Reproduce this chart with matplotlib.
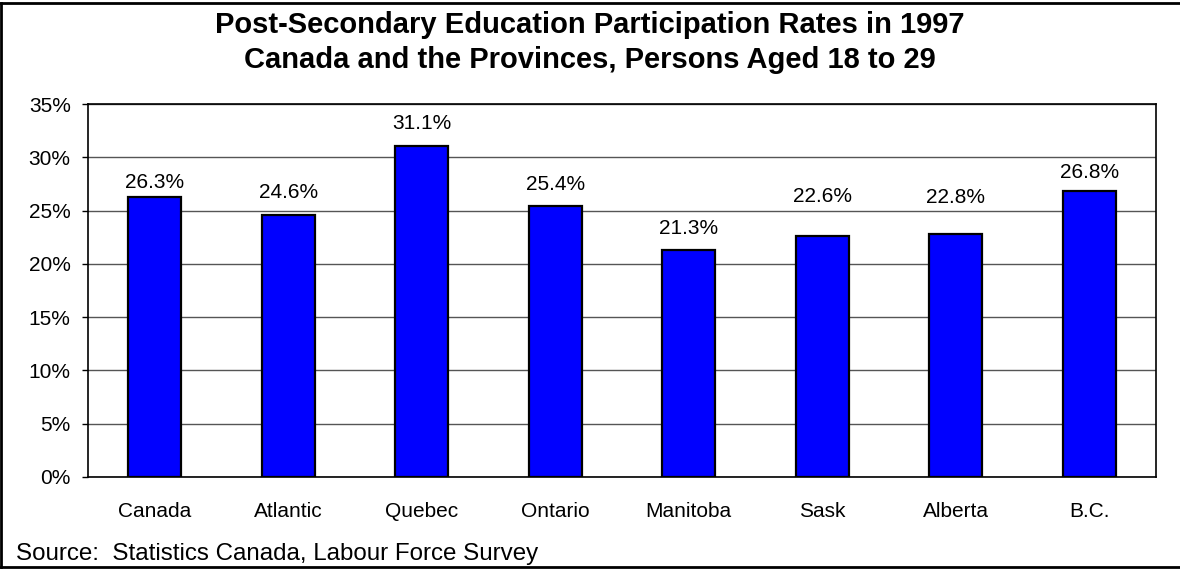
import matplotlib
matplotlib.use("Agg")
import matplotlib.pyplot as plt
from matplotlib.lines import Line2D

plt.rcParams['font.family'] = ['Liberation Sans', 'DejaVu Sans']

# participation rates, persons aged 18 to 29 (percent)
regions = ["Canada", "Atlantic", "Quebec", "Ontario", "Manitoba", "Sask", "Alberta", "B.C."]
rates = [26.3, 24.6, 31.1, 25.4, 21.3, 22.6, 22.8, 26.8]
y_ticks = [0, 5, 10, 15, 20, 25, 30, 35]

# vertical gap (pixels) between bar top and its value label
label_gap = [14, 22, 22, 22, 22, 40, 37, 19]

fig = plt.figure(figsize=(11.8, 5.69), dpi=100)
ax = fig.add_axes([0.0746, 0.1617, 0.9051, 0.6555])

x = list(range(len(regions)))
ax.bar(x, rates, width=0.4, color="#0000FF", edgecolor="black", linewidth=1.6, zorder=3)

for xi, v, g in zip(x, rates, label_gap):
    ax.annotate(f"{v:.1f}%", (xi, v), xytext=(0, g), textcoords="offset pixels",
                ha="center", va="center", fontsize=15, zorder=4)

ax.set_xlim(-0.5, len(regions) - 0.5)
ax.set_ylim(0, 35)
ax.set_yticks(y_ticks)
ax.set_yticklabels([f"{t}%" for t in y_ticks])
ax.set_xticks(x)
ax.set_xticklabels(regions)
ax.tick_params(axis="y", length=4.5, width=1, pad=8, labelsize=15)
ax.tick_params(axis="x", length=0, pad=18, labelsize=15)
ax.yaxis.grid(True, color="#555555", linewidth=1, zorder=0)
ax.set_axisbelow(True)
for s in ax.spines.values():
    s.set_color("black")
    s.set_linewidth(1.2)

fig.text(0.5, 0.942, "Post-Secondary Education Participation Rates in 1997",
         ha="center", va="baseline", fontsize=21, fontweight="bold")
fig.text(0.5, 0.8805, "Canada and the Provinces, Persons Aged 18 to 29",
         ha="center", va="baseline", fontsize=21, fontweight="bold")
fig.text(0.0136, 0.0158, "Source:  Statistics Canada, Labour Force Survey",
         ha="left", va="baseline", fontsize=17.4)

# chart frame round the whole figure (right side runs off the edge)
for xs, ys in [([0.001, 0.001], [0.004, 0.995]),
               ([0.001, 1.0], [0.995, 0.995]),
               ([0.001, 1.0], [0.004, 0.004])]:
    fig.add_artist(Line2D(xs, ys, color="black", linewidth=2, transform=fig.transFigure))

fig.savefig("out.png", dpi=100)
